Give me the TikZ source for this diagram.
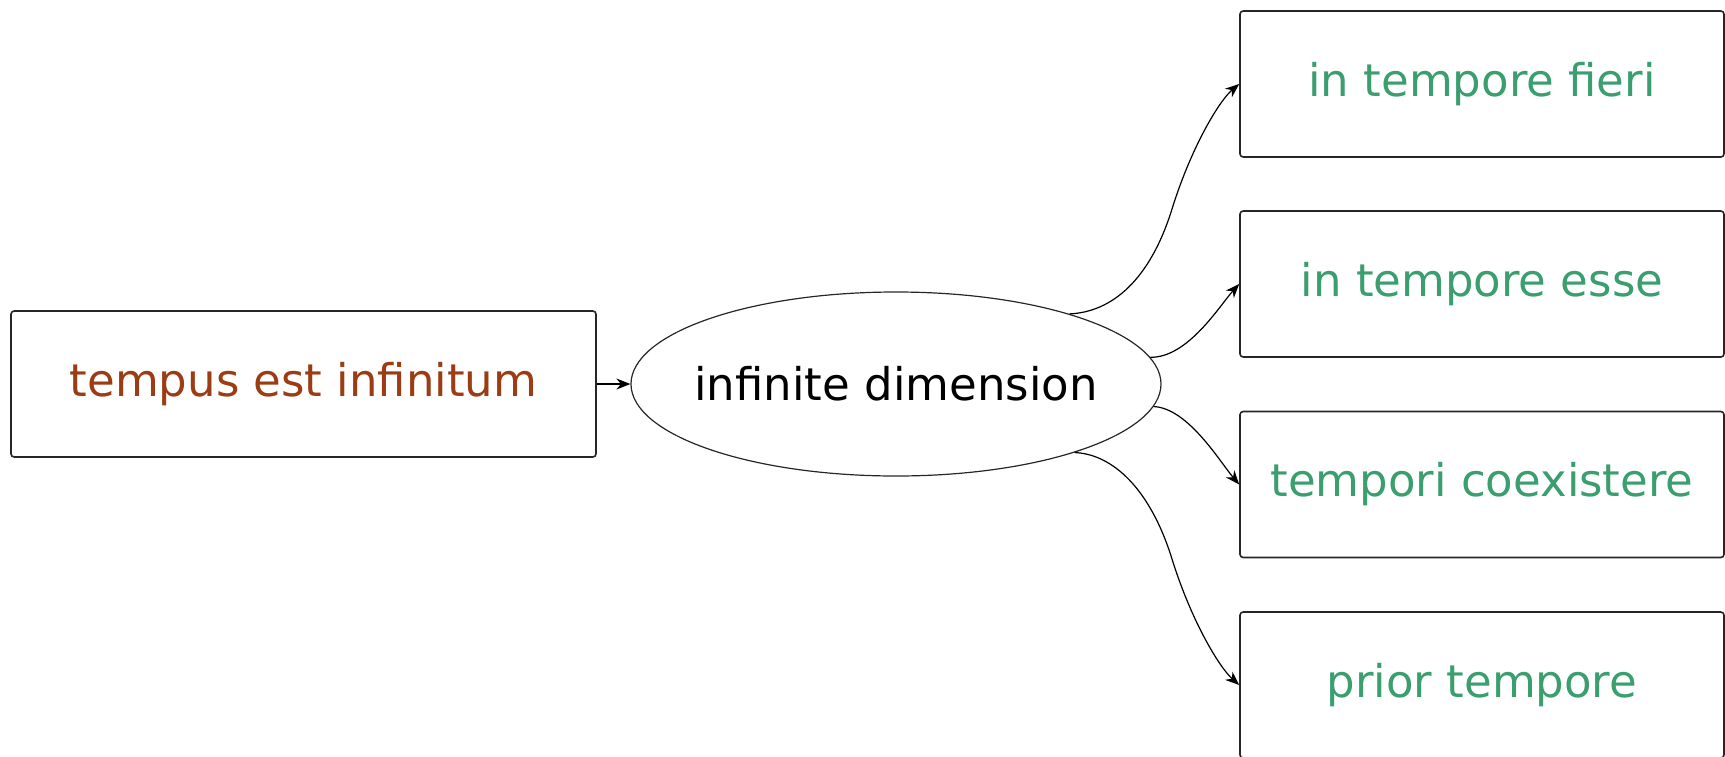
\documentclass[tikz,border=0pt]{standalone}
\usepackage{fontspec}
\setmainfont{DejaVu Sans}
\usetikzlibrary{arrows.meta,shapes.geometric}
\definecolor{brownTxt}{RGB}{155,60,20}
\definecolor{greenTxt}{RGB}{58,158,110}
\begin{document}
\begin{tikzpicture}[x=0.5pt,y=-0.5pt,
  every node/.style={font=\fontsize{22.5}{27}\selectfont},
  boxnode/.style={draw=black!85,line width=0.8pt,rounded corners=1.6pt,
    minimum height=73pt,inner sep=0pt},
  ellnode/.style={draw=black!85,line width=0.6pt,ellipse,minimum width=265pt,
    minimum height=92pt,inner xsep=-12pt,inner ysep=0pt},
  conn/.style={line width=0.6pt,-{Stealth[length=7pt,width=5.5pt]}}]
\useasboundingbox (0,0) rectangle (1725,756);
\node[boxnode,minimum width=292.5pt,text=brownTxt] (src) at (303.5,384) {tempus est infinitum};
\node[ellnode] (dim) at (896,384) {infinite dimension};
\node[boxnode,minimum width=242pt,text=greenTxt] (b1) at (1482,84) {in tempore fieri};
\node[boxnode,minimum width=242pt,text=greenTxt] (b2) at (1482,284) {in tempore esse};
\node[boxnode,minimum width=242pt,text=greenTxt] (b3) at (1482,484.5) {tempori coexistere};
\node[boxnode,minimum width=242pt,text=greenTxt] (b4) at (1482,685) {prior tempore};
\coordinate (m1) at (1172,209);
\coordinate (m4) at (1172,559);
\draw[conn] (src.east) -- (dim.west);
\draw[conn] (dim.22) .. controls (1112,312) and (1150,280) .. (m1)
  .. controls (1192,145) and (1220,100) .. (b1.west);
\draw[conn] (dim.6) .. controls (1188,358) and (1220,305) .. (b2.west);
\draw[conn] (dim.-5) .. controls (1188,408) and (1220,462) .. (b3.west);
\draw[conn] (dim.-21) .. controls (1112,454) and (1150,488) .. (m4)
  .. controls (1192,623) and (1220,668) .. (b4.west);
\end{tikzpicture}
\end{document}
